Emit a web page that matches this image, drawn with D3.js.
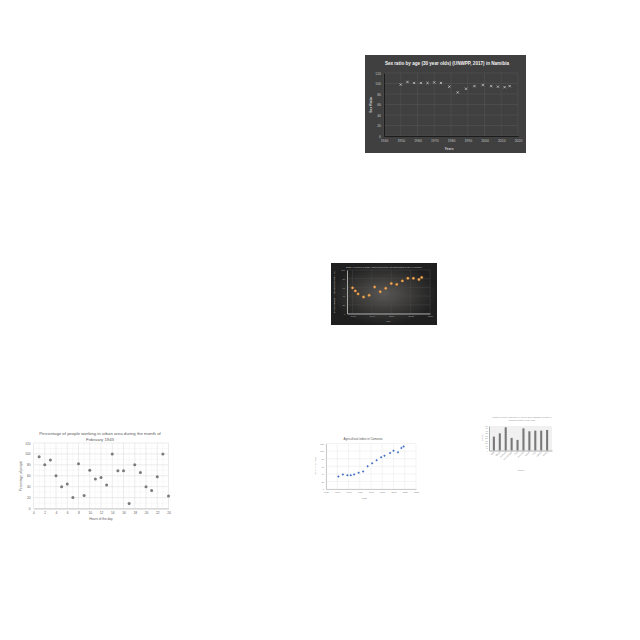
<!DOCTYPE html>
<html>
<head>
<meta charset="utf-8">
<script src="https://cdn.jsdelivr.net/npm/d3@7"></script>
<style>
  body { margin: 0; background: #fff; }
  svg { display: block; font-family: "Liberation Sans", Arial, sans-serif; }
</style>
</head>
<body>
<svg id="page" width="640" height="640"></svg>
<script>
// ---- data ----
// Namibia sex ratio (dark panel, top right)
const namibiaYears = [1950, 1954, 1958, 1962, 1966, 1970, 1974, 1979, 1984, 1989, 1994, 1999, 2004, 2008, 2012, 2015];
const namibiaRatio = [98, 103, 101, 101, 101, 102, 101, 94, 83, 90, 95, 97, 95, 94, 93, 95];
const namibiaXTicks = [1940, 1950, 1960, 1970, 1980, 1990, 2000, 2010, 2020];
const namibiaYTicks = [0, 20, 40, 60, 80, 100, 120];

// middle dark panel with orange points
const glowYears = [1992, 1993, 1994, 1996, 1998, 2000, 2002, 2004, 2006, 2008, 2010, 2012, 2014, 2016, 2017];
const glowValues = [59, 52, 45, 38, 42, 61, 50, 58, 69, 67, 75, 81, 81, 78, 83];
const glowXTicks = [1992, 1999, 2006, 2013, 2020];
const glowYTicks = [0, 20, 40, 60, 80, 100];

// urban workers by hour (bottom left)
const hours = [1, 2, 3, 4, 5, 6, 7, 8, 9, 10, 11, 12, 13, 14, 15, 16, 17, 18, 19, 20, 21, 22, 23, 24];
const percentWorking = [95, 80, 89, 60, 40, 45, 20, 82, 24, 70, 54, 57, 43, 100, 69, 69, 9, 80, 66, 40, 33, 58, 100, 23];
const hourTicks = [0, 2, 4, 6, 8, 10, 12, 14, 16, 18, 20, 22, 24];
const percentTicks = [0, 20, 40, 60, 80, 100, 120];

// Comoros agricultural index (bottom middle)
const comorosYears = [1961, 1965, 1969, 1972, 1975, 1979, 1983, 1987, 1991, 1995, 1999, 2002, 2007, 2010, 2014, 2017, 2019];
const comorosIndex = [33, 38, 36, 36, 38, 43, 46, 60, 68, 76, 84, 88, 95, 101, 97, 108, 112];
const comorosXTicks = [1950, 1960, 1970, 1980, 1990, 2000, 2010, 2020, 2030];
const comorosYTicks = [0, 20, 40, 60, 80, 100, 120];

// bar chart (bottom right)
const barCountries = ["Chile", "Ghana", "Malaysia", "Mozambique", "Peru", "Romania", "Sudan", "Togo", "Uganda", "Yemen"];
const barValues = [284, 351, 473, 257, 216, 453, 392, 405, 405, 419];
const barYTicks = [0, 50, 100, 150, 200, 250, 300, 350, 400, 450, 500];

const svg = d3.select("#page");
const defs = svg.append("defs");

function styleAxis(sel, textColor, size, lineColor) {
  sel.attr("font-family", null);
  sel.selectAll("text").attr("fill", textColor).style("font-size", size + "px");
  if (lineColor) sel.select(".domain").attr("stroke", lineColor).attr("stroke-width", 0.8);
  else sel.select(".domain").remove();
  sel.selectAll(".tick line").remove();
}

function grid(g, x, y, xTicks, yTicks, color, width) {
  g.append("g").selectAll("line").data(yTicks).join("line")
    .attr("x1", x.range()[0]).attr("x2", x.range()[1])
    .attr("y1", d => y(d)).attr("y2", d => y(d))
    .attr("stroke", color).attr("stroke-width", width);
  g.append("g").selectAll("line").data(xTicks).join("line")
    .attr("x1", d => x(d)).attr("x2", d => x(d))
    .attr("y1", y.range()[0]).attr("y2", y.range()[1])
    .attr("stroke", color).attr("stroke-width", width);
}

function label(g, text, px, py, size, color, rotate, weight) {
  const t = g.append("text")
    .attr("text-anchor", "middle")
    .attr("fill", color)
    .style("font-size", size + "px")
    .text(text);
  if (weight) t.attr("font-weight", weight);
  if (rotate) t.attr("transform", `translate(${px},${py}) rotate(-90)`);
  else t.attr("x", px).attr("y", py);
  return t;
}

// ---- Namibia ----
function namibiaChart() {
  const g = svg.append("g");
  g.append("rect").attr("x", 365).attr("y", 55).attr("width", 161).attr("height", 98).attr("fill", "#404040");
  const x = d3.scaleLinear().domain([1940, 2020]).range([384, 518]);
  const y = d3.scaleLinear().domain([0, 120]).range([136, 73]);
  grid(g, x, y, namibiaXTicks, namibiaYTicks, "#535353", 0.6);

  const ya = g.append("g").attr("transform", "translate(384,0)")
    .call(d3.axisLeft(y).tickValues(namibiaYTicks).tickSize(0).tickPadding(3));
  styleAxis(ya, "#c4c4c4", 3.4, "#111");
  const xa = g.append("g").attr("transform", "translate(0,136)")
    .call(d3.axisBottom(x).tickValues(namibiaXTicks).tickFormat(d3.format("d")).tickSize(0).tickPadding(4));
  styleAxis(xa, "#c4c4c4", 3.4, "#111");

  g.append("g").selectAll("path").data(namibiaYears).join("path")
    .attr("d", d3.symbol(d3.symbolX, 4))
    .attr("transform", (d, i) => `translate(${x(d)},${y(namibiaRatio[i])})`)
    .attr("stroke", "#d6d6d6").attr("stroke-width", 0.7).attr("fill", "none");

  label(g, "Sex ratio by age (30 year olds) (UNWPP, 2017) in Namibia", 447, 64.5, 4.6, "#f2f2f2", false, "bold");
  label(g, "Sex Ratio", 372, 105, 3.4, "#d0d0d0", true, "bold");
  label(g, "Years", 449, 150, 3.4, "#d0d0d0", false, "bold");
}

// ---- middle dark panel ----
function glowChart() {
  const grad = defs.append("radialGradient").attr("id", "glow");
  grad.append("stop").attr("offset", "0%").attr("stop-color", "#5a5856");
  grad.append("stop").attr("offset", "100%").attr("stop-color", "#1f1f1f");
  const g = svg.append("g");
  g.append("rect").attr("x", 331).attr("y", 263).attr("width", 106).attr("height", 62).attr("fill", "url(#glow)");
  const x = d3.scaleLinear().domain([1990, 2020]).range([347, 430]);
  const y = d3.scaleLinear().domain([0, 100]).range([313.5, 270]);
  grid(g, x, y, glowXTicks, glowYTicks, "#4c4c4c", 0.4);

  const ya = g.append("g").attr("transform", "translate(347,0)")
    .call(d3.axisLeft(y).tickValues(glowYTicks).tickSize(0).tickPadding(2));
  styleAxis(ya, "#a8a8a8", 2.3, "#c8c8c8");
  const xa = g.append("g").attr("transform", "translate(0,313.5)")
    .call(d3.axisBottom(x).tickValues(glowXTicks).tickFormat(d3.format("d")).tickSize(0).tickPadding(2));
  styleAxis(xa, "#a8a8a8", 2.3, "#c8c8c8");

  g.append("g").selectAll("circle").data(glowYears).join("circle")
    .attr("cx", d => x(d)).attr("cy", (d, i) => y(glowValues[i]))
    .attr("r", 1.2)
    .attr("fill", "#f1b46a").attr("stroke", "#c8741f").attr("stroke-width", 0.5);

  label(g, "Share of women in wage employment in the non-agricultural sector in Uruguay", 384, 267.5, 2.2, "#c8c8c8");
  label(g, "Share of women in wage employment (%)", 334.5, 292, 2.3, "#d8d8d8", true);
  label(g, "Year", 388, 321.5, 2.4, "#bdbdbd");
}

// ---- hours of the day ----
function hoursChart() {
  const g = svg.append("g");
  const x = d3.scaleLinear().domain([0, 24]).range([33.5, 168.5]);
  const y = d3.scaleLinear().domain([0, 120]).range([508.5, 443]);
  grid(g, x, y, d3.range(1, 24, 2), d3.range(10, 120, 20), "#efefef", 0.4);
  grid(g, x, y, hourTicks, percentTicks, "#d9d9d9", 0.5);

  const ya = g.append("g").attr("transform", "translate(33.5,0)")
    .call(d3.axisLeft(y).tickValues(percentTicks).tickSize(0).tickPadding(3));
  styleAxis(ya, "#595959", 3.2);
  const xa = g.append("g").attr("transform", "translate(0,508.5)")
    .call(d3.axisBottom(x).tickValues(hourTicks).tickSize(0).tickPadding(3));
  styleAxis(xa, "#595959", 3.2, "#bfbfbf");

  g.append("g").selectAll("circle").data(hours).join("circle")
    .attr("cx", d => x(d)).attr("cy", (d, i) => y(percentWorking[i]))
    .attr("r", 1.5).attr("fill", "#7a7a7a");

  label(g, "Percentage of people working in urban area during the month of", 100, 435, 4.3, "#595959");
  label(g, "February 1943", 100, 440.5, 4.3, "#595959");
  label(g, "Percentage of people", 21.5, 476, 3.2, "#595959", true);
  label(g, "Hours of the day", 101, 519.5, 3.2, "#595959");
}

// ---- Comoros ----
function comorosChart() {
  const g = svg.append("g");
  const x = d3.scaleLinear().domain([1950, 2030]).range([326, 416]);
  const y = d3.scaleLinear().domain([0, 120]).range([489, 443.5]);
  grid(g, x, y, comorosXTicks, comorosYTicks, "#e3e3e3", 0.4);

  const ya = g.append("g").attr("transform", "translate(326,0)")
    .call(d3.axisLeft(y).tickValues(comorosYTicks).tickSize(0).tickPadding(2));
  styleAxis(ya, "#7f7f7f", 2.3, "#bfbfbf");
  const xa = g.append("g").attr("transform", "translate(0,489)")
    .call(d3.axisBottom(x).tickValues(comorosXTicks).tickFormat(d3.format("d")).tickSize(0).tickPadding(2.5));
  styleAxis(xa, "#7f7f7f", 2.3, "#bfbfbf");

  g.append("g").selectAll("path").data(comorosYears).join("path")
    .attr("d", d3.symbol(d3.symbolDiamond2, 4))
    .attr("transform", (d, i) => `translate(${x(d)},${y(comorosIndex[i])})`)
    .attr("fill", "#4472c4");

  label(g, "Agricultural index in Comoros", 363, 439.5, 3, "#595959");
  label(g, "Agricultural index", 315.5, 466, 2.3, "#7f7f7f", true);
  label(g, "Years", 364, 498.5, 2.3, "#7f7f7f");
}

// ---- bar chart ----
function barChart() {
  const g = svg.append("g");
  const x = d3.scaleBand().domain(barCountries).range([489, 552]).padding(0.65);
  const y = d3.scaleLinear().domain([0, 500]).range([450.5, 426]);
  g.append("rect").attr("x", 489).attr("y", 426).attr("width", 63).attr("height", 24.5).attr("fill", "#efefef");
  g.append("g").selectAll("line").data(barYTicks).join("line")
    .attr("x1", 489).attr("x2", 552).attr("y1", d => y(d)).attr("y2", d => y(d))
    .attr("stroke", "#fff").attr("stroke-width", 0.3);

  g.append("g").selectAll("rect").data(barCountries).join("rect")
    .attr("x", d => x(d)).attr("width", x.bandwidth())
    .attr("y", (d, i) => y(barValues[i]))
    .attr("height", (d, i) => y(0) - y(barValues[i]))
    .attr("fill", "#787878");

  const ya = g.append("g").attr("transform", "translate(489,0)")
    .call(d3.axisLeft(y).tickValues(barYTicks).tickSize(0).tickPadding(1));
  styleAxis(ya, "#8c8c8c", 1.6, "#9a9a9a");
  const xa = g.append("g").attr("transform", "translate(0,450.5)")
    .call(d3.axisBottom(x).tickSize(0).tickPadding(1));
  styleAxis(xa, "#8c8c8c", 2, "#9a9a9a");
  xa.selectAll("text")
    .style("text-anchor", "end")
    .attr("dx", "-0.3em").attr("dy", "0.3em")
    .attr("transform", "rotate(-45)");

  label(g, "Number of people living with HIV, 1990 to 2017 (estimated, all ages) in", 522, 418, 1.9, "#8c8c8c");
  label(g, "selected countries (IHME, 2017)", 522, 421, 1.9, "#8c8c8c");
  label(g, "Number", 483, 438, 1.8, "#8c8c8c", true);
  label(g, "Country", 521, 471, 2, "#8c8c8c");
}

namibiaChart();
glowChart();
hoursChart();
comorosChart();
barChart();
</script>
</body>
</html>
